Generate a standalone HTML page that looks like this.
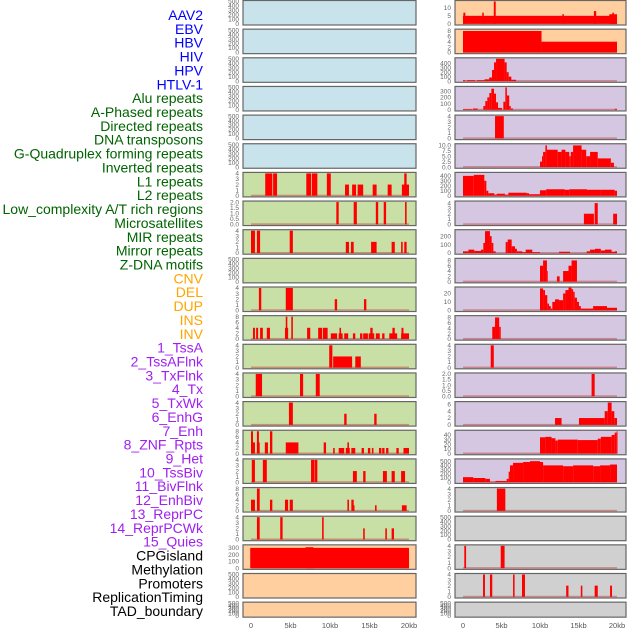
<!DOCTYPE html>
<html><head><meta charset="utf-8">
<style>
html,body{margin:0;padding:0;background:#fff;}
svg{display:block;font-family:"Liberation Sans",sans-serif;}
</style></head>
<body>
<svg id="chart" width="630" height="630" viewBox="0 0 630 630" xmlns="http://www.w3.org/2000/svg"></svg>
<script>
// ---- labels ----
const trackLabels = ["AAV2","EBV","HBV","HIV","HPV","HTLV-1","Alu repeats","A-Phased repeats","Directed repeats","DNA transposons","G-Quadruplex forming repeats","Inverted repeats","L1 repeats","L2 repeats","Low_complexity A/T rich regions","Microsatellites","MIR repeats","Mirror repeats","Z-DNA motifs","CNV","DEL","DUP","INS","INV","1_TssA","2_TssAFlnk","3_TxFlnk","4_Tx","5_TxWk","6_EnhG","7_Enh","8_ZNF_Rpts","9_Het","10_TssBiv","11_BivFlnk","12_EnhBiv","13_ReprPC","14_ReprPCWk","15_Quies","CPGisland","Methylation","Promoters","ReplicationTiming","TAD_boundary"];
const labelGroups = [6,13,5,15,5];
const xTickValues = [0,5,10,15,20];
const xTickLabels = ["0","5kb","10kb","15kb","20kb"];

// ---- tick sets ----
const T500=[0,100,200,300,400,500], T4=[0,1,2,3,4], T8=[0,2,4,6,8], T2=[0.0,0.5,1.0,1.5,2.0];

// ---- left column data: [startKb, endKb, value] ----
const L07=[[1.8,2.7,4],[2.8,3.3,4],[7.0,7.6,4],[7.7,8.4,4],[9.6,10.1,4],[11.9,12.4,2],[12.8,13.3,2],[13.5,14.2,2],[15.4,15.9,2],[17.3,17.8,2],[19.1,20.0,2],[19.4,19.7,4]];
const L08=[[10.8,11.1,2],[13.0,13.4,2],[15.8,16.1,2],[16.8,17.1,2],[19.5,19.7,2]];
const L09=[[0,0.5,4],[0.75,1.15,4],[4.9,5.3,4],[12.0,12.4,2],[12.65,13.0,2],[15.2,15.9,2],[17.8,18.2,2],[19.0,19.2,2],[19.4,19.7,2]];
const L11=[[1.0,1.3,4],[4.4,5.3,4],[10.6,10.9,2],[14.3,14.6,2]];
const L12=[[0.25,0.5,4],[0.65,0.9,4],[1.15,1.5,4],[2.0,2.4,4],[4.3,4.7,4],[4.4,4.6,8],[5.1,5.3,8],[7.1,7.5,4],[8.5,9.0,4],[9.1,9.7,4],[10.1,10.9,2],[11.1,11.6,2],[11.2,11.4,4],[11.8,12.3,2],[12.9,13.2,2],[13.8,14.1,2],[14.2,14.8,2],[14.9,15.6,2],[15.1,15.4,4],[15.8,16.3,2],[16.6,16.9,2],[17.5,18.5,2],[17.9,18.2,4],[19.0,20.0,2],[19.05,19.3,4]];
const L13=[[9.9,10.3,4],[10.4,12.8,2],[13.2,13.9,2]];
const L14=[[0.6,1.4,4],[6.2,6.6,4],[8.2,8.7,4]];
const L15=[[4.8,5.3,4],[11.8,12.1,2],[15.6,15.9,2]];
const L16=[[0,0.5,4],[0,0.25,8],[0.75,1.1,4],[0.75,1.0,8],[1.75,2.15,4],[2.4,2.7,8],[4.4,6.0,4],[9.2,9.5,4],[10.4,10.6,2],[11.1,11.8,2],[12.0,12.5,2],[12.2,12.4,4],[12.7,13.2,2],[14.0,14.3,2],[14.8,15.1,2],[15.3,15.5,2],[16.2,16.5,2],[16.6,16.9,2],[17.1,17.4,2],[18.4,18.7,2],[19.3,20.0,2]];
const L17=[[0.1,0.5,4],[1.5,2.0,4],[7.6,8.0,4],[8.05,8.4,4],[12.9,13.4,2],[14.2,14.5,2],[16.7,17.2,2],[17.8,18.2,2],[19.0,19.5,2]];
const L18=[[0,0.5,4],[0.75,1.1,8],[2.4,2.7,4],[4.3,4.7,4],[4.9,5.3,4],[12.2,12.4,4],[12.7,13.0,4],[12.9,13.1,2],[15.7,15.9,2],[19.1,19.7,2]];
const L19=[[0.75,1.1,4],[3.7,4.0,4],[9.0,9.2,4],[14.2,14.4,2],[17.0,17.2,2],[17.8,18.1,2]];
const L20=[[-0.1,20.0,300],[6.9,7.9,310]];

// ---- right column data ----
const R01=[[0,20.0,5],[0.05,0.3,7],[2.5,2.7,7],[4.0,4.25,14],[12.9,13.1,6],[17.0,17.3,8],[19.0,20.0,6],[19.4,19.6,7]];
const R02=[[0,10.2,8],[10.2,20.0,4]];
const R03=[[0,0.3,20],[0.5,1.6,20],[1.8,2.8,20],[2.8,3.4,40],[3.4,3.77,80],[3.77,4.03,250],[4.03,4.29,420],[4.29,5.4,500],[5.4,5.67,420],[5.67,5.93,200],[5.93,6.28,100],[6.28,6.9,30]];
const R04=[[0,1.2,10],[1.3,1.9,20],[2.64,2.9,60],[2.9,3.16,140],[3.16,3.42,200],[3.42,3.68,270],[3.68,4.03,340],[4.03,4.29,260],[4.29,4.55,120],[4.55,5.06,30],[5.24,5.5,130],[5.5,5.7,360],[5.7,6.0,230],[6.0,6.2,60],[6.2,6.5,20],[19.7,20.0,15]];
const R05=[[4.16,5.3,4]];
const R06=[[10.0,10.26,2.5],[10.26,10.4,5],[10.4,10.7,7],[10.7,10.9,10],[10.9,12.3,8],[12.3,12.8,7],[12.8,13.3,8],[13.3,13.8,7],[13.8,14.0,5],[14.0,14.3,7],[14.3,15.4,10],[15.4,16.0,8],[16.0,16.5,5],[16.5,17.5,7],[17.5,19.2,4],[19.2,19.6,2]];
const R07=[[0,1.4,400],[1.4,2.77,420],[2.77,3.03,300],[3.03,3.29,100],[3.29,4.07,50],[4.07,4.37,20],[4.37,5.45,40],[5.45,5.89,20],[5.89,8.27,60],[8.27,8.57,50],[8.57,10.0,30],[10.0,10.8,110],[10.8,13.2,130],[13.2,13.8,120],[13.8,16.1,130],[16.1,17.8,120],[17.8,19.7,120],[19.7,20.0,100]];
const R08=[[15.7,17.0,2],[17.1,17.5,4],[19.5,20.0,2]];
const R09=[[0,0.7,20],[0.7,1.47,40],[1.47,2.34,25],[2.34,2.64,40],[2.64,2.86,120],[2.86,3.5,260],[3.5,3.72,200],[3.72,3.94,120],[3.94,4.24,20],[5.54,5.8,130],[5.8,6.32,160],[6.32,6.75,80],[6.75,7.0,50],[7.0,7.7,20],[7.7,8.14,10],[8.14,9.0,40],[9.0,10.0,10],[12.47,13.9,15],[16.06,16.5,20],[16.5,17.14,40],[17.14,17.9,50],[17.9,18.44,30],[18.44,19.3,40],[19.3,19.74,15],[19.74,20.0,20]];
const R10=[[10.0,10.4,6],[10.4,10.9,8],[10.9,11.0,4],[12.2,12.55,2],[13.0,13.7,4],[13.7,14.1,6],[14.1,14.8,8]];
const R11=[[10.0,10.4,26],[10.4,10.65,24],[10.65,10.95,18],[10.95,11.17,8],[11.17,11.4,5],[11.4,11.6,2],[11.6,11.95,10],[11.95,12.47,13],[12.47,13.0,12],[13.0,13.3,20],[13.3,13.7,24],[13.7,14.1,27],[14.1,14.3,25],[14.3,14.5,22],[14.5,14.8,15],[14.8,15.06,10],[15.06,15.3,5],[15.3,16.9,2],[16.9,18.7,5],[18.7,20.0,3]];
const R12=[[3.8,4.16,4.5],[4.16,4.7,8],[4.7,4.9,4.5]];
const R13=[[3.6,4.0,4]];
const R14=[[16.7,17.1,2]];
const R15=[[11.95,12.8,2],[15.06,18.4,2],[18.4,18.8,4],[18.8,19.3,6.5],[19.3,19.65,4],[19.65,20.0,2]];
const R16=[[10.0,10.7,35],[10.7,11.5,36],[11.5,12.0,33],[12.0,12.3,28],[12.3,14.9,30],[14.9,17.5,29],[17.5,17.9,32],[17.9,19.3,36],[19.3,19.7,40],[19.7,19.96,45],[19.96,20.0,48]];
const R17=[[0,1.34,120],[1.34,2.9,100],[2.9,3.5,80],[3.5,4.2,10],[4.2,5.67,30],[5.67,5.93,80],[5.93,6.1,250],[6.1,6.5,400],[6.5,7.8,460],[7.8,8.7,480],[8.7,10.0,500],[10.0,10.4,480],[10.4,13.0,400],[13.0,14.3,380],[14.3,16.9,400],[16.9,17.8,380],[17.8,19.1,400],[19.1,20.0,420]];
const R18=[[4.4,5.5,4]];
const R20=[[0.17,0.4,4],[4.9,5.4,4]];
const R21=[[2.6,2.85,4],[3.5,3.8,4],[6.5,6.7,4],[7.66,8.05,4],[13.4,13.7,2],[15.3,15.5,2],[17.1,17.5,2],[19.1,19.35,2]];

const leftSegs=[[],[],[],[],[],[],L07,L08,L09,[],L11,L12,L13,L14,L15,L16,L17,L18,L19,L20,[],[]];
const leftTicks=[T500,T500,T500,T500,T500,T500,T4,T2,T4,T500,T4,T8,T4,T4,T4,T8,T4,T8,T4,[0,100,200,300],T500,T500];
const leftMax=[500,500,500,500,500,500,4,2,4,500,4,8,4,4,4,8,4,8,4,330,500,500];
const leftFill=["#c8e3eb","#c8e3eb","#c8e3eb","#c8e3eb","#c8e3eb","#c8e3eb","#c8e0a5","#c8e0a5","#c8e0a5","#c8e0a5","#c8e0a5","#c8e0a5","#c8e0a5","#c8e0a5","#c8e0a5","#c8e0a5","#c8e0a5","#c8e0a5","#c8e0a5","#ffcf9f","#ffcf9f","#ffcf9f"];
const rightSegs=[R01,R02,R03,R04,R05,R06,R07,R08,R09,R10,R11,R12,R13,R14,R15,R16,R17,R18,[],R20,R21,[]];
const rightTicks=[[0,5,10],T8,[0,100,200,300,400],[0,100,200,300],T4,[0.0,2.5,5.0,7.5,10.0],[0,100,200,300,400],T4,[0,100,200],T8,[0,10,20],T8,T4,T2,[0,2,4,6],[0,10,20,30,40],T500,T4,T500,T4,T4,T500];
const rightMax=[14,8.3,500,360,4,10.3,450,4.2,265,8.4,26.5,8.3,4,2,6.5,48,530,4,500,4,4,500];
const rightFill=["#ffcf9f","#ffcf9f","#d5c7e2","#d5c7e2","#d5c7e2","#d5c7e2","#d5c7e2","#d5c7e2","#d5c7e2","#d5c7e2","#d5c7e2","#d5c7e2","#d5c7e2","#d5c7e2","#d5c7e2","#d5c7e2","#d5c7e2","#d0d0d0","#d0d0d0","#d0d0d0","#d0d0d0","#d0d0d0"];

const NS="http://www.w3.org/2000/svg";
const svg=document.getElementById('chart');
function mk(tag,attrs,parent){const e=document.createElementNS(NS,tag);for(const k in attrs)e.setAttribute(k,attrs[k]);(parent||svg).appendChild(e);return e;}

// labels
const groupColors=["#0000ff","#006400","#ffa500","#a020f0","#000000"];
let gi=0,gc=0;
trackLabels.forEach((lab,i)=>{
  const t=mk('text',{x:203,y:15+i*13.86+5,'text-anchor':'end','font-size':'14px',fill:groupColors[gi]});
  
  
  t.textContent=lab;
  gc++; if(gc>=labelGroups[gi]){gi++;gc=0;}
});

function fmt(v,ticks){const dec=ticks.some(t=>t%1!==0);return dec?v.toFixed(1):String(v);}

function drawColumn(px,pw,x0,x20,segs,ticks,maxes,fills,side){
  const xs=kb=>x0+kb*(x20-x0)/20;
  for(let i=0;i<22;i++){
    const top=0.5+i*28.65, h=(i===21)?15:24.5;
    const g=mk('g',{});
    
    
    mk('rect',{x:px,y:top,width:pw,height:h,fill:fills[i],stroke:'#666','stroke-width':1.2},g);
    const y0=top+h-1.2, span=h-2.2;
    const ys=v=>y0-v/maxes[i]*span;
    ticks[i].forEach(tv=>{
      const t=mk('text',{x:px-4,y:ys(tv)+2.2,'text-anchor':'end','font-size':'6.5px',fill:'#666'},g);
      
      
      t.textContent=fmt(tv,ticks[i]);
    });
    if(segs[i].length){
      const bl=mk('rect',{x:xs(0),y:y0-1,width:xs(20)-xs(0),height:1.5,fill:'#c04040','fill-opacity':0.5},g);
      
      
      segs[i].forEach(s=>{
        const a=Math.max(xs(s[0]),px+0.6), b=Math.min(xs(s[1]),px+pw-0.6);
        const yt=Math.max(ys(s[2]),top+0.6);
        const r=mk('rect',{x:a,y:yt,width:Math.max(b-a,0.8),height:y0-yt,fill:'#ff0000'},g);
        
        
      });
    }
  }
  xTickValues.forEach((v,k)=>{
    const t=mk('text',{x:xs(v),y:628,'text-anchor':'middle','font-size':'7.5px',fill:'#555'});
    
    
    t.textContent=xTickLabels[k];
  });
}
drawColumn(243,173,251,409,leftSegs,leftTicks,leftMax,leftFill,'left');
drawColumn(455,171,463,617,rightSegs,rightTicks,rightMax,rightFill,'right');
</script>
</body></html>
